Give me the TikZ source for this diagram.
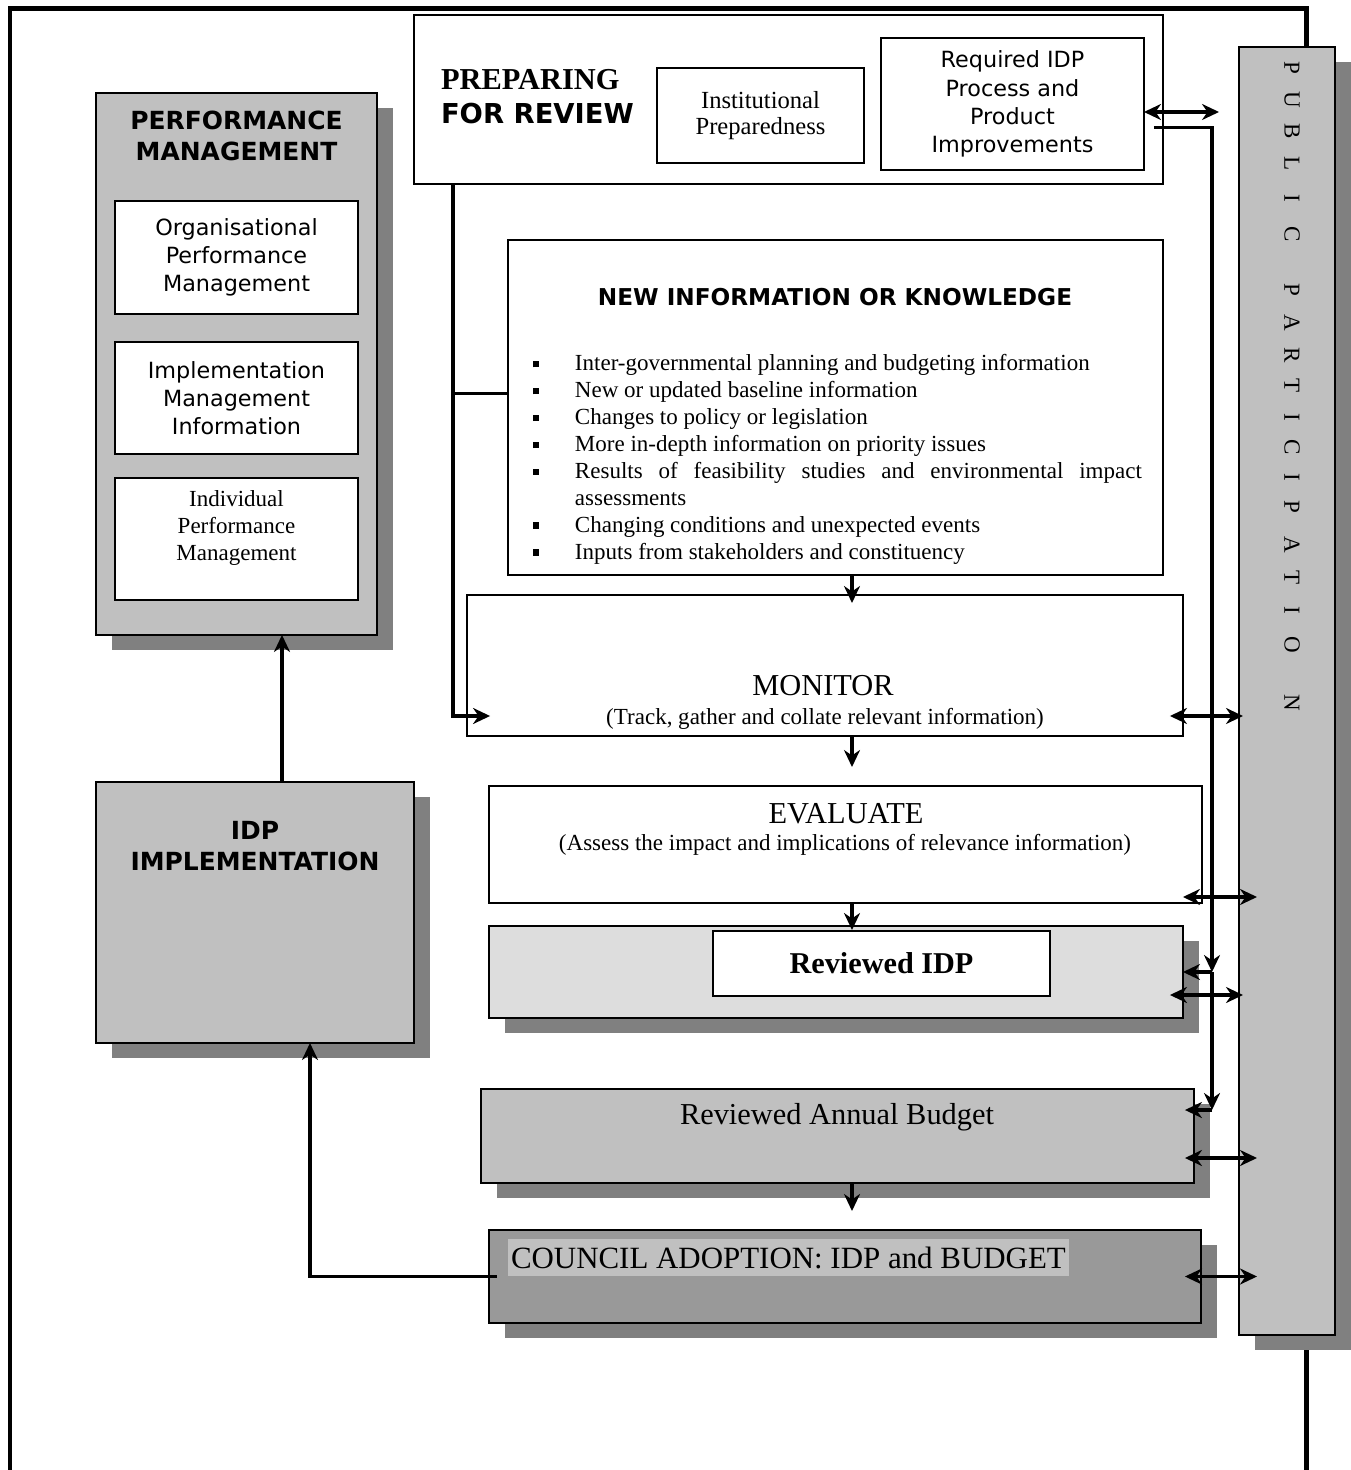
\documentclass[tikz,border=0pt]{standalone}
\usepackage{fontspec}
\setmainfont{Liberation Serif}
\setsansfont{DejaVu Sans}
\usetikzlibrary{arrows.meta,positioning,shadows}
\definecolor{boxgray}{RGB}{192,192,192}
\definecolor{idplight}{RGB}{221,221,221}
\definecolor{darkfill}{RGB}{153,153,153}
\definecolor{shadegray}{RGB}{128,128,128}
\newcommand{\bitem}[1]{\par\noindent\hangindent=0.84cm\hangafter=1\makebox[0.84cm][l]{\rule[0.15em]{0.28em}{0.28em}}#1\par}

\begin{document}
\begin{tikzpicture}[
  x=0.02cm, y=-0.02cm,
  every node/.style={inner sep=0pt, outer sep=0pt},
  panel/.style={rectangle, draw, line width=0.9pt, fill=white, align=center},
  raised/.style={drop shadow={shadow xshift=0.32cm, shadow yshift=-0.3cm, fill=shadegray, opacity=1}},
  headsf/.style={font=\sffamily\bfseries\fontsize{14.2}{17.8}\selectfont, align=center},
  textsf/.style={font=\sffamily\fontsize{12.7}{16}\selectfont},
  textrm/.style={font=\fontsize{13.1}{15.3}\selectfont},
  bigrm/.style={font=\fontsize{17.3}{20}\selectfont},
  conn/.style={line width=2.1pt},
  ppletter/.style={font=\fontsize{13.1}{15}\selectfont, rotate=-90},
  >={Stealth[length=3.4mm, width=3.2mm, inset=1.1mm]}
]
\useasboundingbox (0,0) rectangle (1351,1470);

% outer frame
\draw[line width=0.1cm] (10,1470) -- (10,9) -- (1306,9) -- (1306,1470);

% Performance management
\node[panel, raised, fill=boxgray, minimum width=5.62cm, minimum height=10.84cm] (pm) at (236.5,364) {};
\node[headsf] (pmtitle) at (236.5,136) {PERFORMANCE\\MANAGEMENT};
\node[panel, textsf, minimum width=4.86cm, minimum height=2.26cm] (orgpm) at (236.5,257.5) {Organisational\\Performance\\Management};
\node[panel, textsf, minimum width=4.86cm, minimum height=2.24cm] (impmi) at (236.5,398) {Implementation\\Management\\Information};
\node[panel, minimum width=4.86cm, minimum height=2.44cm] (indpm) at (236.5,539) {};
\node[textrm, align=center] (indtext) at (236.5,528) {Individual\\Performance\\Management};

% IDP implementation
\node[panel, raised, fill=boxgray, minimum width=6.36cm, minimum height=5.22cm] (impl) at (255,912.5) {};
\node[headsf] (impltitle) at (255,846) {IDP\\IMPLEMENTATION};

% Preparing for review
\node[panel, minimum width=14.98cm, minimum height=3.38cm] (prep) at (788.5,99.5) {};
\node[anchor=west, font=\bfseries\fontsize{17.3}{20}\selectfont] (prepa) at (441,80) {PREPARING};
\node[anchor=west, font=\sffamily\bfseries\fontsize{15.6}{18}\selectfont] (prepb) at (441,114) {FOR REVIEW};
\node[panel, font=\fontsize{14}{14.5}\selectfont, minimum width=4.14cm, minimum height=1.9cm] (inst) at (760.5,115.5) {Institutional\\Preparedness};
\node[panel, textsf, minimum width=5.26cm, minimum height=2.64cm] (req) at (1012.5,104) {Required IDP\\Process and\\Product\\Improvements};

% New information
\node[panel, minimum width=13.1cm, minimum height=6.7cm] (newinfo) at (835.5,407.5) {};
\node[font=\sffamily\bfseries\fontsize{13.2}{16}\selectfont] (newtitle) at (835,297) {NEW INFORMATION OR KNOWLEDGE};
\node[textrm, align=justify, anchor=north west, text width=12.18cm] (newlist) at (533,344) {%
  \hyphenpenalty=10000\exhyphenpenalty=10000
  \bitem{Inter-governmental planning and budgeting information}
  \bitem{New or updated baseline information}
  \bitem{Changes to policy or legislation}
  \bitem{More in-depth information on priority issues}
  \bitem{Results of feasibility studies and environmental impact assessments}
  \bitem{Changing conditions and unexpected events}
  \bitem{Inputs from stakeholders and constituency}};

% Monitor and evaluate
\node[panel, minimum width=14.32cm, minimum height=2.82cm] (monitor) at (825,665.5) {};
\node[bigrm] (montitle) at (823,686) {MONITOR};
\node[textrm] (monsub) at (825,719) {(Track, gather and collate relevant information)};
\node[panel, minimum width=14.26cm, minimum height=2.34cm] (evaluate) at (845.5,844.5) {};
\node[bigrm] (evatitle) at (846,814) {EVALUATE};
\node[textrm] (evasub) at (845,845) {(Assess the impact and implications of relevance information)};

% Outputs
\node[panel, raised, fill=idplight, minimum width=13.88cm, minimum height=1.84cm] (revidp) at (836,972) {};
\node[panel, font=\bfseries\fontsize{17.2}{20}\selectfont, minimum width=6.74cm, minimum height=1.3cm] (revinner) at (881.5,963.5) {Reviewed IDP};
\node[panel, raised, fill=boxgray, minimum width=14.26cm, minimum height=1.88cm] (budget) at (837.5,1136) {};
\node[bigrm] (budtext) at (837,1117) {Reviewed Annual Budget};
\node[panel, raised, fill=darkfill, minimum width=14.24cm, minimum height=1.86cm] (council) at (845,1276.5) {};
\node[bigrm, font=\fontsize{17.6}{20}\selectfont, fill=boxgray, anchor=west, inner xsep=0.06cm, minimum height=0.74cm] (counciltext) at (508,1257.5) {COUNCIL ADOPTION: IDP and BUDGET};

% Public participation
\node[panel, raised, fill=boxgray, minimum width=1.92cm, minimum height=25.76cm] (pp) at (1287,691) {};
\foreach \ch/\yy [count=\k] in {P/68, U/100, B/131, L/164, I/198, C/234,
    P/290, A/323, R/355, T/386, I/417, C/447, I/477, P/507, A/545, T/578, I/610, O/645, N/703}
  \node[ppletter] (ppl\k) at (1292,\yy) {\ch};

% Connections
\coordinate (trunk) at ([xshift=0.78cm]prep.south west);
\coordinate (spine) at (852,0);
\coordinate (bus) at (1212,0);
\draw[conn, ->] ([xshift=0.54cm]impl.north) -- ([xshift=0.54cm]impl.north |- pm.south);
\draw[conn, ->] ([xshift=0.16cm]council.west) -| ([xshift=1.1cm]impl.south);
\draw[conn, ->] (trunk) |- ([xshift=0.46cm, yshift=0.4cm]monitor.south west);
\draw[conn] (trunk |- newinfo.west) ++(0,0.28cm) -- ([yshift=0.28cm]newinfo.west);
\draw[conn, ->] (newinfo.south -| spine) -- ([yshift=-0.16cm]monitor.north -| spine);
\draw[conn, ->, shorten >=0.38cm] (monitor.south -| spine) -- (evaluate.north -| spine);
\draw[conn, ->] (evaluate.south -| spine) -- ([yshift=-0.08cm]revidp.north -| spine);
\draw[conn, ->, shorten >=0.38cm] (budget.south -| spine) -- (council.north -| spine);

% Links to public participation
\draw[conn, <->, shorten >=0.4cm] ([yshift=-0.16cm]req.east) -- ([yshift=-0.16cm]req.east -| pp.west);
\draw[conn, <->, shorten >=-0.08cm] ([xshift=-0.26cm, yshift=0.4cm]monitor.south east) -- ([yshift=0.4cm]monitor.south east -| pp.west);
\draw[conn, <->, shorten >=-0.36cm] ([xshift=-0.38cm, yshift=0.12cm]evaluate.south east) -- ([yshift=0.12cm]evaluate.south east -| pp.west);
\draw[conn, <->, shorten >=-0.08cm] ([xshift=-0.26cm, yshift=0.46cm]revidp.south east) -- ([yshift=0.46cm]revidp.south east -| pp.west);
\draw[conn, <->, shorten >=-0.36cm] ([xshift=-0.18cm, yshift=0.5cm]budget.south east) -- ([yshift=0.5cm]budget.south east -| pp.west);
\draw[conn, <->, shorten >=-0.36cm] ([xshift=-0.32cm]council.east) -- (council.east -| pp.west);

% Improvements feed back into the outputs
\coordinate (budtap) at ([xshift=-0.18cm, yshift=-0.42cm]budget.north east);
\draw[conn, ->] ([xshift=-0.18cm, yshift=-0.56cm]prep.east) -| (bus |- revidp.east);
\draw[conn, ->] (bus |- revidp.east) -- (revidp.east);
\draw[conn, ->] (bus |- revidp.east) -- (bus |- budtap);
\draw[conn, ->] (bus |- budtap) -- (budtap);

\end{tikzpicture}
\end{document}
